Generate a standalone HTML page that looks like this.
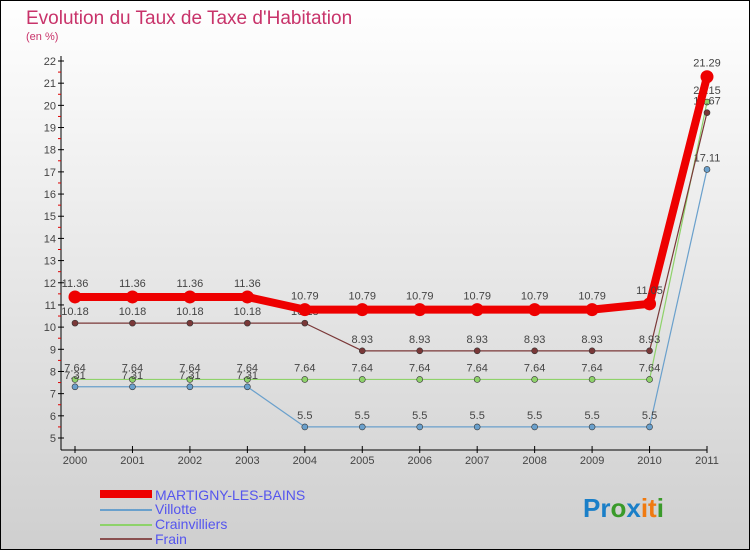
<!DOCTYPE html>
<html><head><meta charset="utf-8"><style>
body{margin:0}
#c{width:750px;height:550px;position:relative;font-family:"Liberation Sans",sans-serif}
</style></head><body>
<div id="c">
<svg id="s" width="750" height="550" xmlns="http://www.w3.org/2000/svg">
<defs><linearGradient id="bg" x1="0" y1="0" x2="0" y2="1"><stop offset="0" stop-color="#ffffff"/><stop offset="1" stop-color="#cfcfcf"/></linearGradient></defs>
<rect x="0.5" y="0.5" width="749" height="549" fill="url(#bg)" stroke="#000"/>
<text x="26" y="24" font-size="19" fill="#c8336a">Evolution du Taux de Taxe d'Habitation</text>
<text x="26" y="40" font-size="11" fill="#c8336a">(en %)</text>
<g id="axes"></g><g id="series"></g>
<g>
<rect x="100" y="490" width="52" height="8" fill="#ee0000"/>
<text x="155" y="500" font-size="14" fill="#5555ee">MARTIGNY-LES-BAINS</text>
<rect x="100" y="509" width="52" height="2" fill="#6aa0cc"/>
<text x="155" y="514" font-size="14" fill="#5555ee">Villotte</text>
<rect x="100" y="524" width="52" height="2" fill="#8ed26a"/>
<text x="155" y="529" font-size="14" fill="#5555ee">Crainvilliers</text>
<rect x="100" y="538" width="52" height="2" fill="#8a5050"/>
<text x="155" y="544" font-size="14" fill="#5555ee">Frain</text>
</g>
<text x="583" y="517" font-size="26" font-weight="bold"><tspan fill="#1a7fc8">Pr</tspan><tspan fill="#3a9a2a">o</tspan><tspan fill="#1a7fc8">x</tspan><tspan fill="#f07a10">it</tspan><tspan fill="#3a9a2a">i</tspan></text>
</svg></div>
<script>
const years=[2000,2001,2002,2003,2004,2005,2006,2007,2008,2009,2010,2011];
const martigny=[11.36,11.36,11.36,11.36,10.79,10.79,10.79,10.79,10.79,10.79,11.05,21.29];
const villotte=[7.31,7.31,7.31,7.31,5.5,5.5,5.5,5.5,5.5,5.5,5.5,17.11];
const crainvilliers=[7.64,7.64,7.64,7.64,7.64,7.64,7.64,7.64,7.64,7.64,7.64,20.15];
const frain=[10.18,10.18,10.18,10.18,10.18,8.93,8.93,8.93,8.93,8.93,8.93,19.67];
const yTicks=[5,6,7,8,9,10,11,12,13,14,15,16,17,18,19,20,21,22];
const NS="http://www.w3.org/2000/svg";
const x=i=>75+i*(707-75)/(years.length-1);
const y=v=>61+(22-v)*(438-61)/17;
function mk(t,a,p){const e=document.createElementNS(NS,t);for(const k in a)e.setAttribute(k,a[k]);p.appendChild(e);return e;}
const ax=document.getElementById('axes');
let yl=mk('line',{x1:61,y1:56,x2:61,y2:450,stroke:'#000'},ax);


let xl=mk('line',{x1:61,y1:450,x2:707,y2:450,stroke:'#000'},ax);


yTicks.forEach(v=>{mk('line',{x1:58,y1:y(v),x2:64,y2:y(v),stroke:'#000'},ax);
 if(v<22)mk('line',{x1:58,y1:y(v+0.5),x2:61,y2:y(v+0.5),stroke:'#d00'},ax);
 const t=mk('text',{x:56,y:y(v)+4,'font-size':11,fill:'#444','text-anchor':'end'},ax);t.textContent=v;
 
 });
years.forEach((yr,i)=>{mk('line',{x1:x(i),y1:446,x2:x(i),y2:453,stroke:'#000'},ax);
 const t=mk('text',{x:x(i),y:464,'font-size':11,fill:'#444','text-anchor':'middle'},ax);t.textContent=yr;
 
 });
const sg=document.getElementById('series');
function draw(vals,col,w,r,name,off){
 const g=mk('g',{},sg);
 
 
 mk('polyline',{points:vals.map((v,i)=>x(i)+','+y(v)).join(' '),fill:'none',stroke:col,'stroke-width':w,'stroke-linejoin':'round'},g);
 vals.forEach((v,i)=>{const c=mk('circle',{cx:x(i),cy:y(v),r:r,fill:col,stroke:'#333','stroke-width':r>4?0:0.6},g);
  
  
  const t=mk('text',{x:x(i),y:y(v)-off,'font-size':11,fill:'#444','text-anchor':'middle'},g);t.textContent=v;
  
  });
}
draw(crainvilliers,'#8ed26a',1.2,3,'crainvilliers',8);
draw(villotte,'#6aa0cc',1.2,3,'villotte',8);
draw(frain,'#7a3838',1.2,3,'frain',8);
draw(martigny,'#ee0000',8,6.5,'martigny',10);
</script></body></html>
